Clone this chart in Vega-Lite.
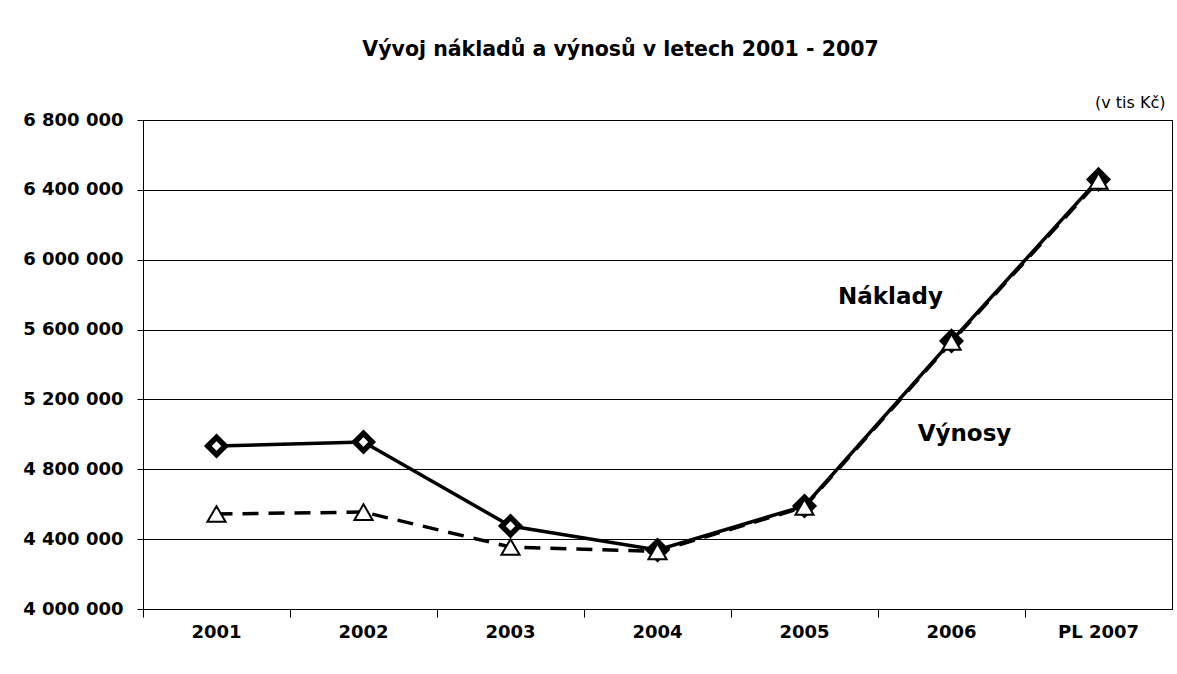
{
  "$schema": "https://vega.github.io/schema/vega-lite/v6.json",
  "width": 1029,
  "height": 489,
  "autosize": "none",
  "padding": {"left": 143, "top": 120, "right": 5, "bottom": 65},
  "background": "white",
  "title": {
    "text": "Vývoj nákladů a výnosů v letech 2001 - 2007",
    "anchor": "middle",
    "frame": "group",
    "baseline": "alphabetic",
    "offset": 18,
    "dx": -37,
    "font": "DejaVu Sans",
    "fontSize": 20.5,
    "fontWeight": "bold",
    "color": "black"
  },
  "datasets": {
    "series": [
      {"rok": "2001", "rada": "Náklady", "hodnota": 4933000},
      {"rok": "2002", "rada": "Náklady", "hodnota": 4956000},
      {"rok": "2003", "rada": "Náklady", "hodnota": 4475000},
      {"rok": "2004", "rada": "Náklady", "hodnota": 4338000},
      {"rok": "2005", "rada": "Náklady", "hodnota": 4590000},
      {"rok": "2006", "rada": "Náklady", "hodnota": 5535000},
      {"rok": "PL 2007", "rada": "Náklady", "hodnota": 6460000},
      {"rok": "2001", "rada": "Výnosy", "hodnota": 4544000},
      {"rok": "2002", "rada": "Výnosy", "hodnota": 4555000},
      {"rok": "2003", "rada": "Výnosy", "hodnota": 4355000},
      {"rok": "2004", "rada": "Výnosy", "hodnota": 4330000},
      {"rok": "2005", "rada": "Výnosy", "hodnota": 4584000},
      {"rok": "2006", "rada": "Výnosy", "hodnota": 5529000},
      {"rok": "PL 2007", "rada": "Výnosy", "hodnota": 6451000}
    ],
    "popisky": [
      {"rok": "2006", "text": "Náklady", "hodnota": 5786000},
      {"rok": "2006", "text": "Výnosy", "hodnota": 5002000}
    ],
    "jednotka": [
      {"rok": "PL 2007", "text": "(v tis  Kč)", "hodnota": 6869000}
    ]
  },
  "encoding": {
    "x": {
      "field": "rok",
      "type": "nominal",
      "scale": {"type": "band", "domain": ["2001", "2002", "2003", "2004", "2005", "2006", "PL 2007"], "paddingInner": 0, "paddingOuter": 0},
      "axis": {
        "title": null,
        "bandPosition": 0,
        "grid": false,
        "domainColor": "black",
        "domainWidth": 1,
        "tickColor": "black",
        "tickSize": 8,
        "labelPadding": 6,
        "labelAngle": 0,
        "labelFont": "DejaVu Sans",
        "labelFontSize": 18,
        "labelFontWeight": "bold",
        "labelColor": "black",
        "labelBaseline": "top"
      }
    },
    "y": {
      "field": "hodnota",
      "type": "quantitative",
      "scale": {"domain": [4000000, 6800000], "nice": false, "zero": false},
      "axis": {
        "title": null,
        "values": [4000000, 4400000, 4800000, 5200000, 5600000, 6000000, 6400000, 6800000],
        "labelExpr": "replace(format(datum.value, ','), /,/g, ' ')",
        "grid": true,
        "gridColor": "black",
        "gridWidth": 1,
        "gridOpacity": 1,
        "domainColor": "black",
        "domainWidth": 1,
        "tickColor": "black",
        "tickSize": 6,
        "labelPadding": 14,
        "labelFont": "DejaVu Sans",
        "labelFontSize": 18,
        "labelFontWeight": "bold",
        "labelColor": "black"
      }
    }
  },
  "layer": [
    {
      "data": {"name": "series"},
      "transform": [{"filter": "datum.rada == 'Výnosy'"}],
      "mark": {"type": "line", "color": "black", "strokeWidth": 3.5, "strokeDash": [16, 10]},
      "encoding": {}
    },
    {
      "data": {"name": "series"},
      "transform": [{"filter": "datum.rada == 'Náklady'"}],
      "mark": {"type": "line", "color": "black", "strokeWidth": 3.5},
      "encoding": {}
    },
    {
      "data": {"name": "series"},
      "transform": [{"filter": "datum.rada == 'Náklady'"}],
      "mark": {"type": "point", "shape": "diamond", "filled": true, "fill": "white", "stroke": "black", "strokeWidth": 5.5, "size": 300, "opacity": 1}
    },
    {
      "data": {"name": "series"},
      "transform": [{"filter": "datum.rada == 'Výnosy'"}],
      "mark": {"type": "point", "shape": "triangle-up", "filled": true, "fill": "white", "stroke": "black", "strokeWidth": 2, "size": 330, "opacity": 1}
    },
    {
      "data": {"name": "popisky"},
      "transform": [{"filter": "datum.text == 'Náklady'"}],
      "mark": {"type": "text", "font": "DejaVu Sans", "fontSize": 23, "fontWeight": "bold", "color": "black", "baseline": "middle", "align": "center", "dx": -61},
      "encoding": {"text": {"field": "text"}}
    },
    {
      "data": {"name": "popisky"},
      "transform": [{"filter": "datum.text == 'Výnosy'"}],
      "mark": {"type": "text", "font": "DejaVu Sans", "fontSize": 23, "fontWeight": "bold", "color": "black", "baseline": "middle", "align": "center", "dx": 13},
      "encoding": {"text": {"field": "text"}}
    },
    {
      "data": {"name": "jednotka"},
      "mark": {"type": "text", "font": "DejaVu Sans", "fontSize": 16, "color": "black", "baseline": "alphabetic", "align": "right", "dx": 67},
      "encoding": {"text": {"field": "text"}}
    }
  ],
  "config": {
    "view": {"stroke": "black", "strokeWidth": 1}
  }
}
